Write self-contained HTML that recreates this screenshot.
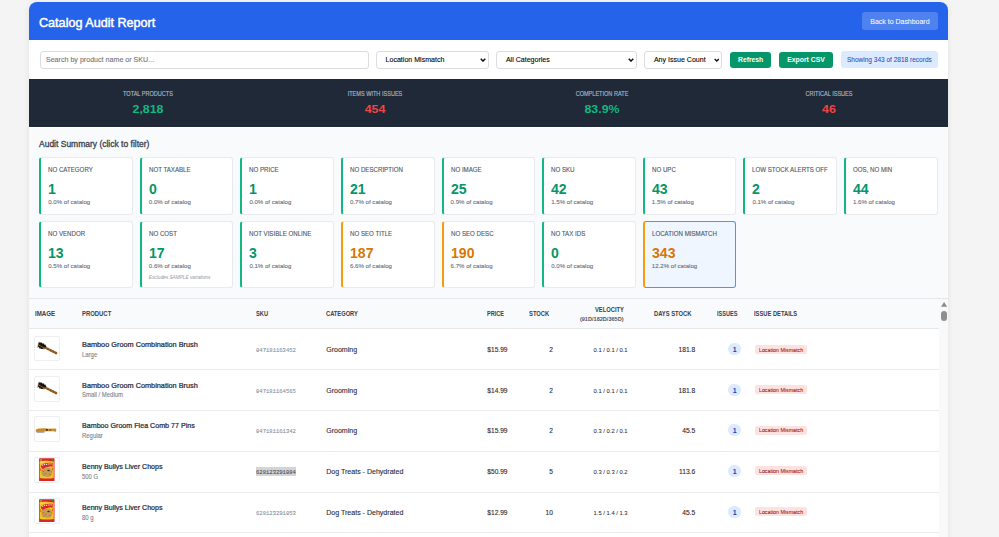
<!DOCTYPE html>
<html><head><meta charset="utf-8"><title>Catalog Audit Report</title>
<style>
html,body{margin:0;padding:0;}
body{width:999px;height:537px;overflow:hidden;background:#f4f4f4;position:relative;font-family:"Liberation Sans",sans-serif;}

</style></head><body>
<div style="position:absolute;left:29.00px;top:2.00px;width:919.00px;height:598.00px;background:#fff;border-radius:8px;box-shadow:0 1px 6px rgba(0,0,0,0.08)"></div>
<div style="position:absolute;left:29.00px;top:2.00px;width:919.00px;height:38.00px;background:#2563eb;border-radius:8px 8px 0 0"></div>
<div style="position:absolute;left:862.40px;top:12.00px;width:75.60px;height:18.00px;background:rgba(255,255,255,0.2);border-radius:3px"></div>
<div style="position:absolute;left:39.50px;top:51.20px;width:329.20px;height:17.40px;background:#fff;border:1px solid #d9dce1;border-radius:3px;box-sizing:border-box"></div>
<div style="position:absolute;left:376.20px;top:51.20px;width:112.40px;height:17.40px;background:#fff;border:1px solid #d9dce1;border-radius:3px;box-sizing:border-box"></div>
<svg style="position:absolute;left:480.00px;top:57.60px" width="6.00" height="4.20" viewBox="0 0 10 7"><path d="M1.2 1.4 L5 5.2 L8.8 1.4" fill="none" stroke="#111" stroke-width="2.4"/></svg>
<div style="position:absolute;left:496.40px;top:51.20px;width:140.20px;height:17.40px;background:#fff;border:1px solid #d9dce1;border-radius:3px;box-sizing:border-box"></div>
<svg style="position:absolute;left:628.00px;top:57.60px" width="6.00" height="4.20" viewBox="0 0 10 7"><path d="M1.2 1.4 L5 5.2 L8.8 1.4" fill="none" stroke="#111" stroke-width="2.4"/></svg>
<div style="position:absolute;left:644.40px;top:51.20px;width:77.60px;height:17.40px;background:#fff;border:1px solid #d9dce1;border-radius:3px;box-sizing:border-box"></div>
<svg style="position:absolute;left:714.00px;top:57.60px" width="5.50" height="4.20" viewBox="0 0 10 7"><path d="M1.2 1.4 L5 5.2 L8.8 1.4" fill="none" stroke="#111" stroke-width="2.4"/></svg>
<div style="position:absolute;left:730.00px;top:52.00px;width:41.40px;height:15.80px;background:#059669;border-radius:3px"></div>
<div style="position:absolute;left:779.20px;top:52.00px;width:53.60px;height:15.80px;background:#059669;border-radius:3px"></div>
<div style="position:absolute;left:840.80px;top:50.80px;width:97.20px;height:17.30px;background:#dbeafe;border-radius:3px"></div>
<div style="position:absolute;left:29.00px;top:79.20px;width:919.00px;height:48.30px;background:#1f2937"></div>
<div style="position:absolute;left:29.00px;top:127.50px;width:919.00px;height:171.00px;background:#f9fafb;border-bottom:1px solid #e5e7eb;box-sizing:border-box"></div>
<div style="position:absolute;left:39.20px;top:157.40px;width:93.50px;height:57.20px;background:#fff;border:1px solid #e8eaed;border-left:2px solid #10b981;border-radius:3px;box-sizing:border-box"></div>
<div style="position:absolute;left:139.80px;top:157.40px;width:93.50px;height:57.20px;background:#fff;border:1px solid #e8eaed;border-left:2px solid #10b981;border-radius:3px;box-sizing:border-box"></div>
<div style="position:absolute;left:240.40px;top:157.40px;width:93.50px;height:57.20px;background:#fff;border:1px solid #e8eaed;border-left:2px solid #10b981;border-radius:3px;box-sizing:border-box"></div>
<div style="position:absolute;left:341.00px;top:157.40px;width:93.50px;height:57.20px;background:#fff;border:1px solid #e8eaed;border-left:2px solid #10b981;border-radius:3px;box-sizing:border-box"></div>
<div style="position:absolute;left:441.60px;top:157.40px;width:93.50px;height:57.20px;background:#fff;border:1px solid #e8eaed;border-left:2px solid #10b981;border-radius:3px;box-sizing:border-box"></div>
<div style="position:absolute;left:542.20px;top:157.40px;width:93.50px;height:57.20px;background:#fff;border:1px solid #e8eaed;border-left:2px solid #10b981;border-radius:3px;box-sizing:border-box"></div>
<div style="position:absolute;left:642.80px;top:157.40px;width:93.50px;height:57.20px;background:#fff;border:1px solid #e8eaed;border-left:2px solid #10b981;border-radius:3px;box-sizing:border-box"></div>
<div style="position:absolute;left:743.40px;top:157.40px;width:93.50px;height:57.20px;background:#fff;border:1px solid #e8eaed;border-left:2px solid #10b981;border-radius:3px;box-sizing:border-box"></div>
<div style="position:absolute;left:844.00px;top:157.40px;width:93.50px;height:57.20px;background:#fff;border:1px solid #e8eaed;border-left:2px solid #10b981;border-radius:3px;box-sizing:border-box"></div>
<div style="position:absolute;left:39.20px;top:221.20px;width:93.50px;height:67.20px;background:#fff;border:1px solid #e8eaed;border-left:2px solid #10b981;border-radius:3px;box-sizing:border-box"></div>
<div style="position:absolute;left:139.80px;top:221.20px;width:93.50px;height:67.20px;background:#fff;border:1px solid #e8eaed;border-left:2px solid #10b981;border-radius:3px;box-sizing:border-box"></div>
<div style="position:absolute;left:240.40px;top:221.20px;width:93.50px;height:67.20px;background:#fff;border:1px solid #e8eaed;border-left:2px solid #10b981;border-radius:3px;box-sizing:border-box"></div>
<div style="position:absolute;left:341.00px;top:221.20px;width:93.50px;height:67.20px;background:#fff;border:1px solid #e8eaed;border-left:2px solid #f59e0b;border-radius:3px;box-sizing:border-box"></div>
<div style="position:absolute;left:441.60px;top:221.20px;width:93.50px;height:67.20px;background:#fff;border:1px solid #e8eaed;border-left:2px solid #f59e0b;border-radius:3px;box-sizing:border-box"></div>
<div style="position:absolute;left:542.20px;top:221.20px;width:93.50px;height:67.20px;background:#fff;border:1px solid #e8eaed;border-left:2px solid #10b981;border-radius:3px;box-sizing:border-box"></div>
<div style="position:absolute;left:642.80px;top:221.20px;width:93.50px;height:67.20px;background:#eff6ff;border:1px solid #5b8ff2;border-left:2px solid #f59e0b;border-radius:3px;box-sizing:border-box"></div>
<div style="position:absolute;left:29.00px;top:299.00px;width:909.70px;height:29.00px;background:#f9fafb"></div>
<div style="position:absolute;left:29.00px;top:328.00px;width:909.70px;height:1.00px;background:#e6e8eb"></div>
<div style="position:absolute;left:29.00px;top:369.00px;width:909.70px;height:1.00px;background:#e9ebee"></div>
<div style="position:absolute;left:34.40px;top:335.60px;width:25.60px;height:25.50px;background:#fff;border:1px solid #eceef1;border-radius:2px;box-sizing:border-box"></div>
<svg style="position:absolute;left:34.40px;top:335.60px" width="25.6" height="25.6" viewBox="0 0 25.6 25.6"><g transform="translate(8.2 10.0) rotate(27)"><rect x="3.2" y="-1.15" width="13.6" height="2.3" rx="1.1" fill="#a0652a"/><path d="M6 -1.1 L7 1.1 M9 -1.1 L10 1.1 M12 -1.1 L13 1.1 M15 -1.1 L16 1.1" stroke="#6b3f16" stroke-width="0.6"/><ellipse cx="0" cy="0.2" rx="4.6" ry="2.4" fill="#9a6530"/><ellipse cx="-0.3" cy="-1.0" rx="4.3" ry="1.4" fill="#111"/><ellipse cx="-1.0" cy="2.0" rx="3.2" ry="0.9" fill="#1a1a1a"/><path d="M-4.2 -1.4 l-0.5 -0.9 M-2.3 -2.1 l-0.3 -1 M0 -2.3 l0 -1 M2.3 -2.1 l0.3 -0.9 M-3.3 2.6 l-0.4 0.8 M-1 3 l-0.2 0.9" stroke="#222" stroke-width="0.55"/></g></svg>
<div style="position:absolute;left:727.60px;top:343.40px;width:13.80px;height:11.90px;background:#dbeafe;border-radius:7px"></div>
<div style="position:absolute;left:755.30px;top:344.70px;width:51.50px;height:9.10px;background:#fee2e2;border-radius:2px"></div>
<div style="position:absolute;left:29.00px;top:410.00px;width:909.70px;height:1.00px;background:#e9ebee"></div>
<div style="position:absolute;left:34.40px;top:376.30px;width:25.60px;height:25.50px;background:#fff;border:1px solid #eceef1;border-radius:2px;box-sizing:border-box"></div>
<svg style="position:absolute;left:34.40px;top:376.30px" width="25.6" height="25.6" viewBox="0 0 25.6 25.6"><g transform="translate(8.2 10.0) rotate(27)"><rect x="3.2" y="-1.15" width="13.6" height="2.3" rx="1.1" fill="#a0652a"/><path d="M6 -1.1 L7 1.1 M9 -1.1 L10 1.1 M12 -1.1 L13 1.1 M15 -1.1 L16 1.1" stroke="#6b3f16" stroke-width="0.6"/><ellipse cx="0" cy="0.2" rx="4.6" ry="2.4" fill="#9a6530"/><ellipse cx="-0.3" cy="-1.0" rx="4.3" ry="1.4" fill="#111"/><ellipse cx="-1.0" cy="2.0" rx="3.2" ry="0.9" fill="#1a1a1a"/><path d="M-4.2 -1.4 l-0.5 -0.9 M-2.3 -2.1 l-0.3 -1 M0 -2.3 l0 -1 M2.3 -2.1 l0.3 -0.9 M-3.3 2.6 l-0.4 0.8 M-1 3 l-0.2 0.9" stroke="#222" stroke-width="0.55"/></g></svg>
<div style="position:absolute;left:727.60px;top:384.10px;width:13.80px;height:11.90px;background:#dbeafe;border-radius:7px"></div>
<div style="position:absolute;left:755.30px;top:385.40px;width:51.50px;height:9.10px;background:#fee2e2;border-radius:2px"></div>
<div style="position:absolute;left:29.00px;top:451.00px;width:909.70px;height:1.00px;background:#e9ebee"></div>
<div style="position:absolute;left:34.40px;top:416.40px;width:25.60px;height:25.50px;background:#fff;border:1px solid #eceef1;border-radius:2px;box-sizing:border-box"></div>
<svg style="position:absolute;left:34.40px;top:416.40px" width="25.6" height="25.6" viewBox="0 0 25.6 25.6"><rect x="2.6" y="15.4" width="7.8" height="1.2" fill="#7d7a6a"/><path d="M1.6 14.6 Q1.8 12.6 4.5 12.4 L11.5 12.3 Q13 12.9 15 12.7 L21.5 12.4 Q22.6 12.6 22.3 14 Q22 15.6 21.3 15.9 Q20.5 14.9 19 15.2 L13.5 15.2 Q12 15 11.3 15.6 L3 16 Q1.5 15.8 1.6 14.6Z" fill="#c98a2b"/><ellipse cx="12.9" cy="13.9" rx="1.1" ry="0.8" fill="#2e2010"/><ellipse cx="16.2" cy="13.8" rx="1.2" ry="0.7" fill="#8a5a1a"/></svg>
<div style="position:absolute;left:727.60px;top:424.20px;width:13.80px;height:11.90px;background:#dbeafe;border-radius:7px"></div>
<div style="position:absolute;left:755.30px;top:425.50px;width:51.50px;height:9.10px;background:#fee2e2;border-radius:2px"></div>
<div style="position:absolute;left:29.00px;top:492.00px;width:909.70px;height:1.00px;background:#e9ebee"></div>
<div style="position:absolute;left:34.40px;top:457.30px;width:25.60px;height:25.50px;background:#fff;border:1px solid #eceef1;border-radius:2px;box-sizing:border-box"></div>
<svg style="position:absolute;left:34.40px;top:457.30px" width="25.6" height="25.6" viewBox="0 0 25.6 25.6"><g transform="translate(5.1 1.3)"><rect x="0" y="0" width="15.4" height="22.6" rx="0.5" fill="#d8262b"/><path d="M0.7 3.2 Q7.7 1.6 14.7 3.2 L14.7 19.8 Q7.7 20.8 0.7 19.8Z" fill="#f2c21e"/><path d="M0.7 3.2 Q4 2.2 7 2.4 L6 4.4 Q3 4.3 0.7 5.2Z" fill="#f6d64a"/><path d="M1.6 7.6 Q3.6 4.6 7.4 5.0 Q10.6 3.8 13.6 4.8 L13.4 8.4 Q11 7.4 9 8.6 Q6 8.6 4 11 Q2.2 10 1.6 7.6Z" fill="#d8262b"/><path d="M2.8 7.4 l1.2 -1.1 M4.6 6.6 l1.3 -0.5 M6.8 6.2 l1.3 -0.1 M9.2 5.8 l1.3 -0.2 M11.3 5.6 l1.3 0" stroke="#fff" stroke-width="0.9"/><path d="M2.4 11.4 Q6 8.6 10.4 9.6 Q13.6 10.6 13.2 14.6 Q12.6 18.4 8.2 18.6 Q3.4 18.6 2.4 15.4Z" fill="#c89a52"/><path d="M3.5 13 l1.5 0.5 M6 15.5 l1.2 -0.6 M10 16 l1.3 0.4 M4.5 17 l1 -0.3 M11.5 12.5 l0.8 0.8" stroke="#9a6a30" stroke-width="0.8"/><ellipse cx="9.4" cy="12.2" rx="1.2" ry="0.8" fill="#3b2814"/><path d="M1 10 q1 1 0.5 2.5 M13.8 9.5 q-0.8 1.2 -0.2 2.4" stroke="#e23a2a" stroke-width="0.8" fill="none"/><circle cx="2.0" cy="1.6" r="0.9" fill="#9ccc3a"/><circle cx="13.4" cy="1.6" r="0.9" fill="#2f8f3a"/><path d="M3 18.8 Q5 18 7 18.9" stroke="#c5e04a" stroke-width="0.9" fill="none"/><circle cx="12.4" cy="18.6" r="0.6" fill="#8fd3f0"/></g></svg>
<div style="position:absolute;left:256.00px;top:466.50px;width:40.30px;height:9.90px;background:#d4d4d4"></div>
<div style="position:absolute;left:727.60px;top:465.10px;width:13.80px;height:11.90px;background:#dbeafe;border-radius:7px"></div>
<div style="position:absolute;left:755.30px;top:466.40px;width:51.50px;height:9.10px;background:#fee2e2;border-radius:2px"></div>
<div style="position:absolute;left:29.00px;top:532.00px;width:909.70px;height:1.00px;background:#e9ebee"></div>
<div style="position:absolute;left:34.40px;top:498.10px;width:25.60px;height:25.50px;background:#fff;border:1px solid #eceef1;border-radius:2px;box-sizing:border-box"></div>
<svg style="position:absolute;left:34.40px;top:498.10px" width="25.6" height="25.6" viewBox="0 0 25.6 25.6"><g transform="translate(5.1 1.3)"><rect x="0" y="0" width="15.4" height="22.6" rx="0.5" fill="#d8262b"/><path d="M0.7 3.2 Q7.7 1.6 14.7 3.2 L14.7 19.8 Q7.7 20.8 0.7 19.8Z" fill="#f2c21e"/><path d="M0.7 3.2 Q4 2.2 7 2.4 L6 4.4 Q3 4.3 0.7 5.2Z" fill="#f6d64a"/><path d="M1.6 7.6 Q3.6 4.6 7.4 5.0 Q10.6 3.8 13.6 4.8 L13.4 8.4 Q11 7.4 9 8.6 Q6 8.6 4 11 Q2.2 10 1.6 7.6Z" fill="#d8262b"/><path d="M2.8 7.4 l1.2 -1.1 M4.6 6.6 l1.3 -0.5 M6.8 6.2 l1.3 -0.1 M9.2 5.8 l1.3 -0.2 M11.3 5.6 l1.3 0" stroke="#fff" stroke-width="0.9"/><path d="M2.4 11.4 Q6 8.6 10.4 9.6 Q13.6 10.6 13.2 14.6 Q12.6 18.4 8.2 18.6 Q3.4 18.6 2.4 15.4Z" fill="#c89a52"/><path d="M3.5 13 l1.5 0.5 M6 15.5 l1.2 -0.6 M10 16 l1.3 0.4 M4.5 17 l1 -0.3 M11.5 12.5 l0.8 0.8" stroke="#9a6a30" stroke-width="0.8"/><ellipse cx="9.4" cy="12.2" rx="1.2" ry="0.8" fill="#3b2814"/><path d="M1 10 q1 1 0.5 2.5 M13.8 9.5 q-0.8 1.2 -0.2 2.4" stroke="#e23a2a" stroke-width="0.8" fill="none"/><circle cx="2.0" cy="1.6" r="0.9" fill="#9ccc3a"/><circle cx="13.4" cy="1.6" r="0.9" fill="#2f8f3a"/><path d="M3 18.8 Q5 18 7 18.9" stroke="#c5e04a" stroke-width="0.9" fill="none"/><circle cx="12.4" cy="18.6" r="0.6" fill="#8fd3f0"/></g></svg>
<div style="position:absolute;left:727.60px;top:505.90px;width:13.80px;height:11.90px;background:#dbeafe;border-radius:7px"></div>
<div style="position:absolute;left:755.30px;top:507.20px;width:51.50px;height:9.10px;background:#fee2e2;border-radius:2px"></div>
<div style="position:absolute;left:29.00px;top:573.00px;width:909.70px;height:1.00px;background:#e9ebee"></div>
<div style="position:absolute;left:34.40px;top:539.00px;width:25.60px;height:25.50px;background:#fff;border:1px solid #eceef1;border-radius:2px;box-sizing:border-box"></div>
<svg style="position:absolute;left:34.40px;top:539.00px" width="25.6" height="25.6" viewBox="0 0 25.6 25.6"><g transform="translate(5.1 1.3)"><rect x="0" y="0" width="15.4" height="22.6" rx="0.5" fill="#d8262b"/><path d="M0.7 3.2 Q7.7 1.6 14.7 3.2 L14.7 19.8 Q7.7 20.8 0.7 19.8Z" fill="#f2c21e"/><path d="M0.7 3.2 Q4 2.2 7 2.4 L6 4.4 Q3 4.3 0.7 5.2Z" fill="#f6d64a"/><path d="M1.6 7.6 Q3.6 4.6 7.4 5.0 Q10.6 3.8 13.6 4.8 L13.4 8.4 Q11 7.4 9 8.6 Q6 8.6 4 11 Q2.2 10 1.6 7.6Z" fill="#d8262b"/><path d="M2.8 7.4 l1.2 -1.1 M4.6 6.6 l1.3 -0.5 M6.8 6.2 l1.3 -0.1 M9.2 5.8 l1.3 -0.2 M11.3 5.6 l1.3 0" stroke="#fff" stroke-width="0.9"/><path d="M2.4 11.4 Q6 8.6 10.4 9.6 Q13.6 10.6 13.2 14.6 Q12.6 18.4 8.2 18.6 Q3.4 18.6 2.4 15.4Z" fill="#c89a52"/><path d="M3.5 13 l1.5 0.5 M6 15.5 l1.2 -0.6 M10 16 l1.3 0.4 M4.5 17 l1 -0.3 M11.5 12.5 l0.8 0.8" stroke="#9a6a30" stroke-width="0.8"/><ellipse cx="9.4" cy="12.2" rx="1.2" ry="0.8" fill="#3b2814"/><path d="M1 10 q1 1 0.5 2.5 M13.8 9.5 q-0.8 1.2 -0.2 2.4" stroke="#e23a2a" stroke-width="0.8" fill="none"/><circle cx="2.0" cy="1.6" r="0.9" fill="#9ccc3a"/><circle cx="13.4" cy="1.6" r="0.9" fill="#2f8f3a"/><path d="M3 18.8 Q5 18 7 18.9" stroke="#c5e04a" stroke-width="0.9" fill="none"/><circle cx="12.4" cy="18.6" r="0.6" fill="#8fd3f0"/></g></svg>
<div style="position:absolute;left:727.60px;top:546.80px;width:13.80px;height:11.90px;background:#dbeafe;border-radius:7px"></div>
<div style="position:absolute;left:755.30px;top:548.10px;width:51.50px;height:9.10px;background:#fee2e2;border-radius:2px"></div>
<div style="position:absolute;left:938.70px;top:298.50px;width:9.30px;height:238.50px;background:#f9f9f9"></div>
<svg style="position:absolute;left:940.7px;top:302.2px" width="6.2" height="4.7" viewBox="0 0 6.2 4.7"><path d="M3.1 0 L6.2 4.7 L0 4.7Z" fill="#8a8a8a"/></svg>
<div style="position:absolute;left:941.00px;top:310.70px;width:5.60px;height:10.70px;background:#8f8f8f;border-radius:3px"></div>
<div style="position:absolute;top:14px;font-family:'Liberation Sans',sans-serif;font-size:12.4px;font-weight:normal;font-style:normal;line-height:18px;color:#fff;white-space:nowrap;transform:scaleX(1.0173);transform-origin:left center;left:38.90px;-webkit-text-stroke:0.45px #fff;">Catalog Audit Report</div>
<div style="position:absolute;top:17px;font-family:'Liberation Sans',sans-serif;font-size:6.97px;font-weight:normal;font-style:normal;line-height:10px;color:#fff;white-space:nowrap;left:870.30px;-webkit-text-stroke:0.05px #fff;">Back to Dashboard</div>
<div style="position:absolute;top:55px;font-family:'Liberation Sans',sans-serif;font-size:7.12px;font-weight:normal;font-style:normal;line-height:10px;color:#757575;white-space:nowrap;left:45.90px;-webkit-text-stroke:0.1px #757575;">Search by product name or SKU...</div>
<div style="position:absolute;top:55px;font-family:'Liberation Sans',sans-serif;font-size:7.06px;font-weight:normal;font-style:normal;line-height:10px;color:#000;white-space:nowrap;left:385.60px;-webkit-text-stroke:0.1px #000;">Location Mismatch</div>
<div style="position:absolute;top:55px;font-family:'Liberation Sans',sans-serif;font-size:7.06px;font-weight:normal;font-style:normal;line-height:10px;color:#000;white-space:nowrap;left:505.90px;-webkit-text-stroke:0.1px #000;">All Categories</div>
<div style="position:absolute;top:55px;font-family:'Liberation Sans',sans-serif;font-size:7.06px;font-weight:normal;font-style:normal;line-height:10px;color:#000;white-space:nowrap;left:653.90px;-webkit-text-stroke:0.1px #000;">Any Issue Count</div>
<div style="position:absolute;top:55px;font-family:'Liberation Sans',sans-serif;font-size:6.75px;font-weight:bold;font-style:normal;line-height:10px;color:#fff;white-space:nowrap;left:450.70px;width:600px;text-align:center;">Refresh</div>
<div style="position:absolute;top:55px;font-family:'Liberation Sans',sans-serif;font-size:6.82px;font-weight:bold;font-style:normal;line-height:10px;color:#fff;white-space:nowrap;left:506.00px;width:600px;text-align:center;">Export CSV</div>
<div style="position:absolute;top:55px;font-family:'Liberation Sans',sans-serif;font-size:6.53px;font-weight:normal;font-style:normal;line-height:10px;color:#2a4bb8;white-space:nowrap;left:589.40px;width:600px;text-align:center;-webkit-text-stroke:0.05px #2a4bb8;">Showing 343 of 2818 records</div>
<div style="position:absolute;top:89px;font-family:'Liberation Sans',sans-serif;font-size:6.4px;font-weight:normal;font-style:normal;line-height:9px;color:#adb5c1;white-space:nowrap;transform:scaleX(0.8700);transform-origin:center center;left:-151.80px;width:600px;text-align:center;-webkit-text-stroke:0.15px #adb5c1;">TOTAL PRODUCTS</div>
<div style="position:absolute;top:101px;font-family:'Liberation Sans',sans-serif;font-size:11.8px;font-weight:bold;font-style:normal;line-height:17px;color:#10b981;white-space:nowrap;transform:scaleX(1.0500);transform-origin:center center;left:-151.80px;width:600px;text-align:center;">2,818</div>
<div style="position:absolute;top:89px;font-family:'Liberation Sans',sans-serif;font-size:6.4px;font-weight:normal;font-style:normal;line-height:9px;color:#adb5c1;white-space:nowrap;transform:scaleX(0.8700);transform-origin:center center;left:74.90px;width:600px;text-align:center;-webkit-text-stroke:0.15px #adb5c1;">ITEMS WITH ISSUES</div>
<div style="position:absolute;top:101px;font-family:'Liberation Sans',sans-serif;font-size:11.8px;font-weight:bold;font-style:normal;line-height:17px;color:#ef4444;white-space:nowrap;transform:scaleX(1.0500);transform-origin:center center;left:74.90px;width:600px;text-align:center;">454</div>
<div style="position:absolute;top:89px;font-family:'Liberation Sans',sans-serif;font-size:6.4px;font-weight:normal;font-style:normal;line-height:9px;color:#adb5c1;white-space:nowrap;transform:scaleX(0.8700);transform-origin:center center;left:301.70px;width:600px;text-align:center;-webkit-text-stroke:0.15px #adb5c1;">COMPLETION RATE</div>
<div style="position:absolute;top:101px;font-family:'Liberation Sans',sans-serif;font-size:11.8px;font-weight:bold;font-style:normal;line-height:17px;color:#10b981;white-space:nowrap;transform:scaleX(1.0500);transform-origin:center center;left:301.70px;width:600px;text-align:center;">83.9%</div>
<div style="position:absolute;top:89px;font-family:'Liberation Sans',sans-serif;font-size:6.4px;font-weight:normal;font-style:normal;line-height:9px;color:#adb5c1;white-space:nowrap;transform:scaleX(0.8700);transform-origin:center center;left:528.50px;width:600px;text-align:center;-webkit-text-stroke:0.15px #adb5c1;">CRITICAL ISSUES</div>
<div style="position:absolute;top:101px;font-family:'Liberation Sans',sans-serif;font-size:11.8px;font-weight:bold;font-style:normal;line-height:17px;color:#ef4444;white-space:nowrap;transform:scaleX(1.0500);transform-origin:center center;left:528.50px;width:600px;text-align:center;">46</div>
<div style="position:absolute;top:138px;font-family:'Liberation Sans',sans-serif;font-size:8.6px;font-weight:normal;font-style:normal;line-height:13px;color:#374151;white-space:nowrap;transform:scaleX(0.9882);transform-origin:left center;left:39.00px;-webkit-text-stroke:0.3px #374151;">Audit Summary (click to filter)</div>
<div style="position:absolute;top:165px;font-family:'Liberation Sans',sans-serif;font-size:6.3px;font-weight:normal;font-style:normal;line-height:9px;color:#4b5563;white-space:nowrap;transform:scaleX(0.9750);transform-origin:left center;left:48.20px;-webkit-text-stroke:0.1px #4b5563;">NO CATEGORY</div>
<div style="position:absolute;top:180px;font-family:'Liberation Sans',sans-serif;font-size:13.8px;font-weight:bold;font-style:normal;line-height:20px;color:#059669;white-space:nowrap;transform:scaleX(1.0200);transform-origin:left center;left:48.20px;">1</div>
<div style="position:absolute;top:197px;font-family:'Liberation Sans',sans-serif;font-size:6.1px;font-weight:normal;font-style:normal;line-height:9px;color:#6b7280;white-space:nowrap;left:48.20px;-webkit-text-stroke:0.1px #6b7280;">0.0% of catalog</div>
<div style="position:absolute;top:165px;font-family:'Liberation Sans',sans-serif;font-size:6.3px;font-weight:normal;font-style:normal;line-height:9px;color:#4b5563;white-space:nowrap;transform:scaleX(0.9750);transform-origin:left center;left:148.80px;-webkit-text-stroke:0.1px #4b5563;">NOT TAXABLE</div>
<div style="position:absolute;top:180px;font-family:'Liberation Sans',sans-serif;font-size:13.8px;font-weight:bold;font-style:normal;line-height:20px;color:#059669;white-space:nowrap;transform:scaleX(1.0200);transform-origin:left center;left:148.80px;">0</div>
<div style="position:absolute;top:197px;font-family:'Liberation Sans',sans-serif;font-size:6.1px;font-weight:normal;font-style:normal;line-height:9px;color:#6b7280;white-space:nowrap;left:148.80px;-webkit-text-stroke:0.1px #6b7280;">0.0% of catalog</div>
<div style="position:absolute;top:165px;font-family:'Liberation Sans',sans-serif;font-size:6.3px;font-weight:normal;font-style:normal;line-height:9px;color:#4b5563;white-space:nowrap;transform:scaleX(0.9750);transform-origin:left center;left:249.40px;-webkit-text-stroke:0.1px #4b5563;">NO PRICE</div>
<div style="position:absolute;top:180px;font-family:'Liberation Sans',sans-serif;font-size:13.8px;font-weight:bold;font-style:normal;line-height:20px;color:#059669;white-space:nowrap;transform:scaleX(1.0200);transform-origin:left center;left:249.40px;">1</div>
<div style="position:absolute;top:197px;font-family:'Liberation Sans',sans-serif;font-size:6.1px;font-weight:normal;font-style:normal;line-height:9px;color:#6b7280;white-space:nowrap;left:249.40px;-webkit-text-stroke:0.1px #6b7280;">0.0% of catalog</div>
<div style="position:absolute;top:165px;font-family:'Liberation Sans',sans-serif;font-size:6.3px;font-weight:normal;font-style:normal;line-height:9px;color:#4b5563;white-space:nowrap;transform:scaleX(0.9750);transform-origin:left center;left:350.00px;-webkit-text-stroke:0.1px #4b5563;">NO DESCRIPTION</div>
<div style="position:absolute;top:180px;font-family:'Liberation Sans',sans-serif;font-size:13.8px;font-weight:bold;font-style:normal;line-height:20px;color:#059669;white-space:nowrap;transform:scaleX(1.0200);transform-origin:left center;left:350.00px;">21</div>
<div style="position:absolute;top:197px;font-family:'Liberation Sans',sans-serif;font-size:6.1px;font-weight:normal;font-style:normal;line-height:9px;color:#6b7280;white-space:nowrap;left:350.00px;-webkit-text-stroke:0.1px #6b7280;">0.7% of catalog</div>
<div style="position:absolute;top:165px;font-family:'Liberation Sans',sans-serif;font-size:6.3px;font-weight:normal;font-style:normal;line-height:9px;color:#4b5563;white-space:nowrap;transform:scaleX(0.9750);transform-origin:left center;left:450.60px;-webkit-text-stroke:0.1px #4b5563;">NO IMAGE</div>
<div style="position:absolute;top:180px;font-family:'Liberation Sans',sans-serif;font-size:13.8px;font-weight:bold;font-style:normal;line-height:20px;color:#059669;white-space:nowrap;transform:scaleX(1.0200);transform-origin:left center;left:450.60px;">25</div>
<div style="position:absolute;top:197px;font-family:'Liberation Sans',sans-serif;font-size:6.1px;font-weight:normal;font-style:normal;line-height:9px;color:#6b7280;white-space:nowrap;left:450.60px;-webkit-text-stroke:0.1px #6b7280;">0.9% of catalog</div>
<div style="position:absolute;top:165px;font-family:'Liberation Sans',sans-serif;font-size:6.3px;font-weight:normal;font-style:normal;line-height:9px;color:#4b5563;white-space:nowrap;transform:scaleX(0.9750);transform-origin:left center;left:551.20px;-webkit-text-stroke:0.1px #4b5563;">NO SKU</div>
<div style="position:absolute;top:180px;font-family:'Liberation Sans',sans-serif;font-size:13.8px;font-weight:bold;font-style:normal;line-height:20px;color:#059669;white-space:nowrap;transform:scaleX(1.0200);transform-origin:left center;left:551.20px;">42</div>
<div style="position:absolute;top:197px;font-family:'Liberation Sans',sans-serif;font-size:6.1px;font-weight:normal;font-style:normal;line-height:9px;color:#6b7280;white-space:nowrap;left:551.20px;-webkit-text-stroke:0.1px #6b7280;">1.5% of catalog</div>
<div style="position:absolute;top:165px;font-family:'Liberation Sans',sans-serif;font-size:6.3px;font-weight:normal;font-style:normal;line-height:9px;color:#4b5563;white-space:nowrap;transform:scaleX(0.9750);transform-origin:left center;left:651.80px;-webkit-text-stroke:0.1px #4b5563;">NO UPC</div>
<div style="position:absolute;top:180px;font-family:'Liberation Sans',sans-serif;font-size:13.8px;font-weight:bold;font-style:normal;line-height:20px;color:#059669;white-space:nowrap;transform:scaleX(1.0200);transform-origin:left center;left:651.80px;">43</div>
<div style="position:absolute;top:197px;font-family:'Liberation Sans',sans-serif;font-size:6.1px;font-weight:normal;font-style:normal;line-height:9px;color:#6b7280;white-space:nowrap;left:651.80px;-webkit-text-stroke:0.1px #6b7280;">1.5% of catalog</div>
<div style="position:absolute;top:165px;font-family:'Liberation Sans',sans-serif;font-size:6.3px;font-weight:normal;font-style:normal;line-height:9px;color:#4b5563;white-space:nowrap;transform:scaleX(0.9750);transform-origin:left center;left:752.40px;-webkit-text-stroke:0.1px #4b5563;">LOW STOCK ALERTS OFF</div>
<div style="position:absolute;top:180px;font-family:'Liberation Sans',sans-serif;font-size:13.8px;font-weight:bold;font-style:normal;line-height:20px;color:#059669;white-space:nowrap;transform:scaleX(1.0200);transform-origin:left center;left:752.40px;">2</div>
<div style="position:absolute;top:197px;font-family:'Liberation Sans',sans-serif;font-size:6.1px;font-weight:normal;font-style:normal;line-height:9px;color:#6b7280;white-space:nowrap;left:752.40px;-webkit-text-stroke:0.1px #6b7280;">0.1% of catalog</div>
<div style="position:absolute;top:165px;font-family:'Liberation Sans',sans-serif;font-size:6.3px;font-weight:normal;font-style:normal;line-height:9px;color:#4b5563;white-space:nowrap;transform:scaleX(0.9750);transform-origin:left center;left:853.00px;-webkit-text-stroke:0.1px #4b5563;">OOS, NO MIN</div>
<div style="position:absolute;top:180px;font-family:'Liberation Sans',sans-serif;font-size:13.8px;font-weight:bold;font-style:normal;line-height:20px;color:#059669;white-space:nowrap;transform:scaleX(1.0200);transform-origin:left center;left:853.00px;">44</div>
<div style="position:absolute;top:197px;font-family:'Liberation Sans',sans-serif;font-size:6.1px;font-weight:normal;font-style:normal;line-height:9px;color:#6b7280;white-space:nowrap;left:853.00px;-webkit-text-stroke:0.1px #6b7280;">1.6% of catalog</div>
<div style="position:absolute;top:229px;font-family:'Liberation Sans',sans-serif;font-size:6.3px;font-weight:normal;font-style:normal;line-height:9px;color:#4b5563;white-space:nowrap;transform:scaleX(0.9750);transform-origin:left center;left:48.20px;-webkit-text-stroke:0.1px #4b5563;">NO VENDOR</div>
<div style="position:absolute;top:244px;font-family:'Liberation Sans',sans-serif;font-size:13.8px;font-weight:bold;font-style:normal;line-height:20px;color:#059669;white-space:nowrap;transform:scaleX(1.0200);transform-origin:left center;left:48.20px;">13</div>
<div style="position:absolute;top:261px;font-family:'Liberation Sans',sans-serif;font-size:6.1px;font-weight:normal;font-style:normal;line-height:9px;color:#6b7280;white-space:nowrap;left:48.20px;-webkit-text-stroke:0.1px #6b7280;">0.5% of catalog</div>
<div style="position:absolute;top:229px;font-family:'Liberation Sans',sans-serif;font-size:6.3px;font-weight:normal;font-style:normal;line-height:9px;color:#4b5563;white-space:nowrap;transform:scaleX(0.9750);transform-origin:left center;left:148.80px;-webkit-text-stroke:0.1px #4b5563;">NO COST</div>
<div style="position:absolute;top:244px;font-family:'Liberation Sans',sans-serif;font-size:13.8px;font-weight:bold;font-style:normal;line-height:20px;color:#059669;white-space:nowrap;transform:scaleX(1.0200);transform-origin:left center;left:148.80px;">17</div>
<div style="position:absolute;top:261px;font-family:'Liberation Sans',sans-serif;font-size:6.1px;font-weight:normal;font-style:normal;line-height:9px;color:#6b7280;white-space:nowrap;left:148.80px;-webkit-text-stroke:0.1px #6b7280;">0.6% of catalog</div>
<div style="position:absolute;top:229px;font-family:'Liberation Sans',sans-serif;font-size:6.3px;font-weight:normal;font-style:normal;line-height:9px;color:#4b5563;white-space:nowrap;transform:scaleX(0.9750);transform-origin:left center;left:249.40px;-webkit-text-stroke:0.1px #4b5563;">NOT VISIBLE ONLINE</div>
<div style="position:absolute;top:244px;font-family:'Liberation Sans',sans-serif;font-size:13.8px;font-weight:bold;font-style:normal;line-height:20px;color:#059669;white-space:nowrap;transform:scaleX(1.0200);transform-origin:left center;left:249.40px;">3</div>
<div style="position:absolute;top:261px;font-family:'Liberation Sans',sans-serif;font-size:6.1px;font-weight:normal;font-style:normal;line-height:9px;color:#6b7280;white-space:nowrap;left:249.40px;-webkit-text-stroke:0.1px #6b7280;">0.1% of catalog</div>
<div style="position:absolute;top:229px;font-family:'Liberation Sans',sans-serif;font-size:6.3px;font-weight:normal;font-style:normal;line-height:9px;color:#4b5563;white-space:nowrap;transform:scaleX(0.9750);transform-origin:left center;left:350.00px;-webkit-text-stroke:0.1px #4b5563;">NO SEO TITLE</div>
<div style="position:absolute;top:244px;font-family:'Liberation Sans',sans-serif;font-size:13.8px;font-weight:bold;font-style:normal;line-height:20px;color:#d97706;white-space:nowrap;transform:scaleX(1.0200);transform-origin:left center;left:350.00px;">187</div>
<div style="position:absolute;top:261px;font-family:'Liberation Sans',sans-serif;font-size:6.1px;font-weight:normal;font-style:normal;line-height:9px;color:#6b7280;white-space:nowrap;left:350.00px;-webkit-text-stroke:0.1px #6b7280;">6.6% of catalog</div>
<div style="position:absolute;top:229px;font-family:'Liberation Sans',sans-serif;font-size:6.3px;font-weight:normal;font-style:normal;line-height:9px;color:#4b5563;white-space:nowrap;transform:scaleX(0.9750);transform-origin:left center;left:450.60px;-webkit-text-stroke:0.1px #4b5563;">NO SEO DESC</div>
<div style="position:absolute;top:244px;font-family:'Liberation Sans',sans-serif;font-size:13.8px;font-weight:bold;font-style:normal;line-height:20px;color:#d97706;white-space:nowrap;transform:scaleX(1.0200);transform-origin:left center;left:450.60px;">190</div>
<div style="position:absolute;top:261px;font-family:'Liberation Sans',sans-serif;font-size:6.1px;font-weight:normal;font-style:normal;line-height:9px;color:#6b7280;white-space:nowrap;left:450.60px;-webkit-text-stroke:0.1px #6b7280;">6.7% of catalog</div>
<div style="position:absolute;top:229px;font-family:'Liberation Sans',sans-serif;font-size:6.3px;font-weight:normal;font-style:normal;line-height:9px;color:#4b5563;white-space:nowrap;transform:scaleX(0.9750);transform-origin:left center;left:551.20px;-webkit-text-stroke:0.1px #4b5563;">NO TAX IDS</div>
<div style="position:absolute;top:244px;font-family:'Liberation Sans',sans-serif;font-size:13.8px;font-weight:bold;font-style:normal;line-height:20px;color:#059669;white-space:nowrap;transform:scaleX(1.0200);transform-origin:left center;left:551.20px;">0</div>
<div style="position:absolute;top:261px;font-family:'Liberation Sans',sans-serif;font-size:6.1px;font-weight:normal;font-style:normal;line-height:9px;color:#6b7280;white-space:nowrap;left:551.20px;-webkit-text-stroke:0.1px #6b7280;">0.0% of catalog</div>
<div style="position:absolute;top:229px;font-family:'Liberation Sans',sans-serif;font-size:6.3px;font-weight:normal;font-style:normal;line-height:9px;color:#4b5563;white-space:nowrap;transform:scaleX(0.9750);transform-origin:left center;left:651.80px;-webkit-text-stroke:0.1px #4b5563;">LOCATION MISMATCH</div>
<div style="position:absolute;top:244px;font-family:'Liberation Sans',sans-serif;font-size:13.8px;font-weight:bold;font-style:normal;line-height:20px;color:#d97706;white-space:nowrap;transform:scaleX(1.0200);transform-origin:left center;left:651.80px;">343</div>
<div style="position:absolute;top:261px;font-family:'Liberation Sans',sans-serif;font-size:6.1px;font-weight:normal;font-style:normal;line-height:9px;color:#6b7280;white-space:nowrap;left:651.80px;-webkit-text-stroke:0.1px #6b7280;">12.2% of catalog</div>
<div style="position:absolute;top:274px;font-family:'Liberation Sans',sans-serif;font-size:4.75px;font-weight:normal;font-style:italic;line-height:7px;color:#9ca3af;white-space:nowrap;left:148.80px;-webkit-text-stroke:0.05px #9ca3af;">Excludes SAMPLE variations</div>
<div style="position:absolute;top:309px;font-family:'Liberation Sans',sans-serif;font-size:6.4px;font-weight:bold;font-style:normal;line-height:9px;color:#374151;white-space:nowrap;transform:scaleX(0.9629);transform-origin:left center;left:34.50px;">IMAGE</div>
<div style="position:absolute;top:309px;font-family:'Liberation Sans',sans-serif;font-size:6.4px;font-weight:bold;font-style:normal;line-height:9px;color:#374151;white-space:nowrap;transform:scaleX(0.9260);transform-origin:left center;left:81.70px;">PRODUCT</div>
<div style="position:absolute;top:309px;font-family:'Liberation Sans',sans-serif;font-size:6.4px;font-weight:bold;font-style:normal;line-height:9px;color:#374151;white-space:nowrap;transform:scaleX(0.8956);transform-origin:left center;left:255.90px;">SKU</div>
<div style="position:absolute;top:309px;font-family:'Liberation Sans',sans-serif;font-size:6.4px;font-weight:bold;font-style:normal;line-height:9px;color:#374151;white-space:nowrap;transform:scaleX(0.8971);transform-origin:left center;left:325.90px;">CATEGORY</div>
<div style="position:absolute;top:309px;font-family:'Liberation Sans',sans-serif;font-size:6.4px;font-weight:bold;font-style:normal;line-height:9px;color:#374151;white-space:nowrap;transform:scaleX(0.8692);transform-origin:left center;left:486.60px;">PRICE</div>
<div style="position:absolute;top:309px;font-family:'Liberation Sans',sans-serif;font-size:6.4px;font-weight:bold;font-style:normal;line-height:9px;color:#374151;white-space:nowrap;transform:scaleX(0.9109);transform-origin:left center;left:528.70px;">STOCK</div>
<div style="position:absolute;top:309px;font-family:'Liberation Sans',sans-serif;font-size:6.4px;font-weight:bold;font-style:normal;line-height:9px;color:#374151;white-space:nowrap;transform:scaleX(0.9090);transform-origin:left center;left:653.50px;">DAYS STOCK</div>
<div style="position:absolute;top:309px;font-family:'Liberation Sans',sans-serif;font-size:6.4px;font-weight:bold;font-style:normal;line-height:9px;color:#374151;white-space:nowrap;transform:scaleX(0.8690);transform-origin:left center;left:716.70px;">ISSUES</div>
<div style="position:absolute;top:309px;font-family:'Liberation Sans',sans-serif;font-size:6.4px;font-weight:bold;font-style:normal;line-height:9px;color:#374151;white-space:nowrap;transform:scaleX(0.9022);transform-origin:left center;left:753.80px;">ISSUE DETAILS</div>
<div style="position:absolute;top:305px;font-family:'Liberation Sans',sans-serif;font-size:6.4px;font-weight:bold;font-style:normal;line-height:9px;color:#374151;white-space:nowrap;transform:scaleX(0.9062);transform-origin:right center;right:375.30px;text-align:right;">VELOCITY</div>
<div style="position:absolute;top:316px;font-family:'Liberation Sans',sans-serif;font-size:4.8px;font-weight:bold;font-style:normal;line-height:7px;color:#4b5563;white-space:nowrap;transform:scaleX(1.1617);transform-origin:right center;right:375.20px;text-align:right;">(91D/182D/365D)</div>
<div style="position:absolute;top:340px;font-family:'Liberation Sans',sans-serif;font-size:7.0px;font-weight:normal;font-style:normal;line-height:10px;color:#1f2937;white-space:nowrap;transform:scaleX(1.0443);transform-origin:left center;left:81.80px;-webkit-text-stroke:0.22px #1f2937;">Bamboo Groom Combination Brush</div>
<div style="position:absolute;top:350px;font-family:'Liberation Sans',sans-serif;font-size:6.4px;font-weight:normal;font-style:normal;line-height:9px;color:#7b828c;white-space:nowrap;transform:scaleX(0.9300);transform-origin:left center;left:81.80px;-webkit-text-stroke:0.1px #7b828c;">Large</div>
<div style="position:absolute;top:346px;font-family:'Liberation Mono',monospace;font-size:6.2px;font-weight:normal;font-style:normal;line-height:9px;color:#8a9099;white-space:nowrap;transform:scaleX(0.8961);transform-origin:left center;left:256.20px;-webkit-text-stroke:0.1px #8a9099;">047181163452</div>
<div style="position:absolute;top:345px;font-family:'Liberation Sans',sans-serif;font-size:7.05px;font-weight:normal;font-style:normal;line-height:10px;color:#1f2937;white-space:nowrap;left:326.20px;-webkit-text-stroke:0.1px #1f2937;">Grooming</div>
<div style="position:absolute;top:345px;font-family:'Liberation Sans',sans-serif;font-size:6.6px;font-weight:normal;font-style:normal;line-height:10px;color:#1f2937;white-space:nowrap;left:487.30px;-webkit-text-stroke:0.1px #1f2937;">$15.99</div>
<div style="position:absolute;top:345px;font-family:'Liberation Sans',sans-serif;font-size:6.6px;font-weight:normal;font-style:normal;line-height:10px;color:#1f2937;white-space:nowrap;right:446.10px;text-align:right;-webkit-text-stroke:0.1px #1f2937;">2</div>
<div style="position:absolute;top:346px;font-family:'Liberation Sans',sans-serif;font-size:5.84px;font-weight:normal;font-style:normal;line-height:9px;color:#1f2937;white-space:nowrap;left:310.60px;width:600px;text-align:center;-webkit-text-stroke:0.05px #1f2937;">0.1 / 0.1 / 0.1</div>
<div style="position:absolute;top:345px;font-family:'Liberation Sans',sans-serif;font-size:6.71px;font-weight:normal;font-style:normal;line-height:10px;color:#1f2937;white-space:nowrap;right:303.80px;text-align:right;-webkit-text-stroke:0.1px #1f2937;">181.8</div>
<div style="position:absolute;top:345px;font-family:'Liberation Sans',sans-serif;font-size:7.0px;font-weight:bold;font-style:normal;line-height:10px;color:#1e40af;white-space:nowrap;left:434.60px;width:600px;text-align:center;">1</div>
<div style="position:absolute;top:346px;font-family:'Liberation Sans',sans-serif;font-size:5.3px;font-weight:normal;font-style:normal;line-height:8px;color:#991b1b;white-space:nowrap;left:481.05px;width:600px;text-align:center;-webkit-text-stroke:0.08px #991b1b;">Location Mismatch</div>
<div style="position:absolute;top:381px;font-family:'Liberation Sans',sans-serif;font-size:7.0px;font-weight:normal;font-style:normal;line-height:10px;color:#1f2937;white-space:nowrap;transform:scaleX(1.0443);transform-origin:left center;left:81.80px;-webkit-text-stroke:0.22px #1f2937;">Bamboo Groom Combination Brush</div>
<div style="position:absolute;top:390px;font-family:'Liberation Sans',sans-serif;font-size:6.4px;font-weight:normal;font-style:normal;line-height:9px;color:#7b828c;white-space:nowrap;transform:scaleX(0.9300);transform-origin:left center;left:81.80px;-webkit-text-stroke:0.1px #7b828c;">Small / Medium</div>
<div style="position:absolute;top:387px;font-family:'Liberation Mono',monospace;font-size:6.2px;font-weight:normal;font-style:normal;line-height:9px;color:#8a9099;white-space:nowrap;transform:scaleX(0.8961);transform-origin:left center;left:256.20px;-webkit-text-stroke:0.1px #8a9099;">047181164565</div>
<div style="position:absolute;top:386px;font-family:'Liberation Sans',sans-serif;font-size:7.05px;font-weight:normal;font-style:normal;line-height:10px;color:#1f2937;white-space:nowrap;left:326.20px;-webkit-text-stroke:0.1px #1f2937;">Grooming</div>
<div style="position:absolute;top:386px;font-family:'Liberation Sans',sans-serif;font-size:6.6px;font-weight:normal;font-style:normal;line-height:10px;color:#1f2937;white-space:nowrap;left:487.30px;-webkit-text-stroke:0.1px #1f2937;">$14.99</div>
<div style="position:absolute;top:386px;font-family:'Liberation Sans',sans-serif;font-size:6.6px;font-weight:normal;font-style:normal;line-height:10px;color:#1f2937;white-space:nowrap;right:446.10px;text-align:right;-webkit-text-stroke:0.1px #1f2937;">2</div>
<div style="position:absolute;top:387px;font-family:'Liberation Sans',sans-serif;font-size:5.84px;font-weight:normal;font-style:normal;line-height:9px;color:#1f2937;white-space:nowrap;left:310.60px;width:600px;text-align:center;-webkit-text-stroke:0.05px #1f2937;">0.1 / 0.1 / 0.1</div>
<div style="position:absolute;top:386px;font-family:'Liberation Sans',sans-serif;font-size:6.71px;font-weight:normal;font-style:normal;line-height:10px;color:#1f2937;white-space:nowrap;right:303.80px;text-align:right;-webkit-text-stroke:0.1px #1f2937;">181.8</div>
<div style="position:absolute;top:386px;font-family:'Liberation Sans',sans-serif;font-size:7.0px;font-weight:bold;font-style:normal;line-height:10px;color:#1e40af;white-space:nowrap;left:434.60px;width:600px;text-align:center;">1</div>
<div style="position:absolute;top:386px;font-family:'Liberation Sans',sans-serif;font-size:5.3px;font-weight:normal;font-style:normal;line-height:8px;color:#991b1b;white-space:nowrap;left:481.05px;width:600px;text-align:center;-webkit-text-stroke:0.08px #991b1b;">Location Mismatch</div>
<div style="position:absolute;top:421px;font-family:'Liberation Sans',sans-serif;font-size:7.0px;font-weight:normal;font-style:normal;line-height:10px;color:#1f2937;white-space:nowrap;transform:scaleX(1.0173);transform-origin:left center;left:81.80px;-webkit-text-stroke:0.22px #1f2937;">Bamboo Groom Flea Comb 77 Pins</div>
<div style="position:absolute;top:431px;font-family:'Liberation Sans',sans-serif;font-size:6.4px;font-weight:normal;font-style:normal;line-height:9px;color:#7b828c;white-space:nowrap;transform:scaleX(0.9300);transform-origin:left center;left:81.80px;-webkit-text-stroke:0.1px #7b828c;">Regular</div>
<div style="position:absolute;top:427px;font-family:'Liberation Mono',monospace;font-size:6.2px;font-weight:normal;font-style:normal;line-height:9px;color:#8a9099;white-space:nowrap;transform:scaleX(0.8961);transform-origin:left center;left:256.20px;-webkit-text-stroke:0.1px #8a9099;">047181161342</div>
<div style="position:absolute;top:426px;font-family:'Liberation Sans',sans-serif;font-size:7.05px;font-weight:normal;font-style:normal;line-height:10px;color:#1f2937;white-space:nowrap;left:326.20px;-webkit-text-stroke:0.1px #1f2937;">Grooming</div>
<div style="position:absolute;top:426px;font-family:'Liberation Sans',sans-serif;font-size:6.6px;font-weight:normal;font-style:normal;line-height:10px;color:#1f2937;white-space:nowrap;left:487.30px;-webkit-text-stroke:0.1px #1f2937;">$15.99</div>
<div style="position:absolute;top:426px;font-family:'Liberation Sans',sans-serif;font-size:6.6px;font-weight:normal;font-style:normal;line-height:10px;color:#1f2937;white-space:nowrap;right:446.10px;text-align:right;-webkit-text-stroke:0.1px #1f2937;">2</div>
<div style="position:absolute;top:427px;font-family:'Liberation Sans',sans-serif;font-size:5.84px;font-weight:normal;font-style:normal;line-height:9px;color:#1f2937;white-space:nowrap;left:310.60px;width:600px;text-align:center;-webkit-text-stroke:0.05px #1f2937;">0.3 / 0.2 / 0.1</div>
<div style="position:absolute;top:426px;font-family:'Liberation Sans',sans-serif;font-size:6.71px;font-weight:normal;font-style:normal;line-height:10px;color:#1f2937;white-space:nowrap;right:303.80px;text-align:right;-webkit-text-stroke:0.1px #1f2937;">45.5</div>
<div style="position:absolute;top:426px;font-family:'Liberation Sans',sans-serif;font-size:7.0px;font-weight:bold;font-style:normal;line-height:10px;color:#1e40af;white-space:nowrap;left:434.60px;width:600px;text-align:center;">1</div>
<div style="position:absolute;top:426px;font-family:'Liberation Sans',sans-serif;font-size:5.3px;font-weight:normal;font-style:normal;line-height:8px;color:#991b1b;white-space:nowrap;left:481.05px;width:600px;text-align:center;-webkit-text-stroke:0.08px #991b1b;">Location Mismatch</div>
<div style="position:absolute;top:462px;font-family:'Liberation Sans',sans-serif;font-size:7.0px;font-weight:normal;font-style:normal;line-height:10px;color:#1f2937;white-space:nowrap;transform:scaleX(1.0092);transform-origin:left center;left:81.80px;-webkit-text-stroke:0.22px #1f2937;">Benny Bullys Liver Chops</div>
<div style="position:absolute;top:472px;font-family:'Liberation Sans',sans-serif;font-size:6.4px;font-weight:normal;font-style:normal;line-height:9px;color:#7b828c;white-space:nowrap;transform:scaleX(0.9300);transform-origin:left center;left:81.80px;-webkit-text-stroke:0.1px #7b828c;">500 G</div>
<div style="position:absolute;top:468px;font-family:'Liberation Mono',monospace;font-size:6.2px;font-weight:normal;font-style:normal;line-height:9px;color:#4b4f56;white-space:nowrap;transform:scaleX(0.8961);transform-origin:left center;left:256.20px;-webkit-text-stroke:0.1px #4b4f56;">628123291084</div>
<div style="position:absolute;top:467px;font-family:'Liberation Sans',sans-serif;font-size:7.05px;font-weight:normal;font-style:normal;line-height:10px;color:#1f2937;white-space:nowrap;left:326.20px;-webkit-text-stroke:0.1px #1f2937;">Dog Treats - Dehydrated</div>
<div style="position:absolute;top:467px;font-family:'Liberation Sans',sans-serif;font-size:6.6px;font-weight:normal;font-style:normal;line-height:10px;color:#1f2937;white-space:nowrap;left:487.30px;-webkit-text-stroke:0.1px #1f2937;">$50.99</div>
<div style="position:absolute;top:467px;font-family:'Liberation Sans',sans-serif;font-size:6.6px;font-weight:normal;font-style:normal;line-height:10px;color:#1f2937;white-space:nowrap;right:446.10px;text-align:right;-webkit-text-stroke:0.1px #1f2937;">5</div>
<div style="position:absolute;top:468px;font-family:'Liberation Sans',sans-serif;font-size:5.84px;font-weight:normal;font-style:normal;line-height:9px;color:#1f2937;white-space:nowrap;left:310.60px;width:600px;text-align:center;-webkit-text-stroke:0.05px #1f2937;">0.3 / 0.3 / 0.2</div>
<div style="position:absolute;top:467px;font-family:'Liberation Sans',sans-serif;font-size:6.71px;font-weight:normal;font-style:normal;line-height:10px;color:#1f2937;white-space:nowrap;right:303.80px;text-align:right;-webkit-text-stroke:0.1px #1f2937;">113.6</div>
<div style="position:absolute;top:467px;font-family:'Liberation Sans',sans-serif;font-size:7.0px;font-weight:bold;font-style:normal;line-height:10px;color:#1e40af;white-space:nowrap;left:434.60px;width:600px;text-align:center;">1</div>
<div style="position:absolute;top:467px;font-family:'Liberation Sans',sans-serif;font-size:5.3px;font-weight:normal;font-style:normal;line-height:8px;color:#991b1b;white-space:nowrap;left:481.05px;width:600px;text-align:center;-webkit-text-stroke:0.08px #991b1b;">Location Mismatch</div>
<div style="position:absolute;top:503px;font-family:'Liberation Sans',sans-serif;font-size:7.0px;font-weight:normal;font-style:normal;line-height:10px;color:#1f2937;white-space:nowrap;transform:scaleX(1.0092);transform-origin:left center;left:81.80px;-webkit-text-stroke:0.22px #1f2937;">Benny Bullys Liver Chops</div>
<div style="position:absolute;top:513px;font-family:'Liberation Sans',sans-serif;font-size:6.4px;font-weight:normal;font-style:normal;line-height:9px;color:#7b828c;white-space:nowrap;transform:scaleX(0.9300);transform-origin:left center;left:81.80px;-webkit-text-stroke:0.1px #7b828c;">80 g</div>
<div style="position:absolute;top:509px;font-family:'Liberation Mono',monospace;font-size:6.2px;font-weight:normal;font-style:normal;line-height:9px;color:#8a9099;white-space:nowrap;transform:scaleX(0.8961);transform-origin:left center;left:256.20px;-webkit-text-stroke:0.1px #8a9099;">628123291053</div>
<div style="position:absolute;top:508px;font-family:'Liberation Sans',sans-serif;font-size:7.05px;font-weight:normal;font-style:normal;line-height:10px;color:#1f2937;white-space:nowrap;left:326.20px;-webkit-text-stroke:0.1px #1f2937;">Dog Treats - Dehydrated</div>
<div style="position:absolute;top:508px;font-family:'Liberation Sans',sans-serif;font-size:6.6px;font-weight:normal;font-style:normal;line-height:10px;color:#1f2937;white-space:nowrap;left:487.30px;-webkit-text-stroke:0.1px #1f2937;">$12.99</div>
<div style="position:absolute;top:508px;font-family:'Liberation Sans',sans-serif;font-size:6.6px;font-weight:normal;font-style:normal;line-height:10px;color:#1f2937;white-space:nowrap;right:446.10px;text-align:right;-webkit-text-stroke:0.1px #1f2937;">10</div>
<div style="position:absolute;top:509px;font-family:'Liberation Sans',sans-serif;font-size:5.84px;font-weight:normal;font-style:normal;line-height:9px;color:#1f2937;white-space:nowrap;left:310.60px;width:600px;text-align:center;-webkit-text-stroke:0.05px #1f2937;">1.5 / 1.4 / 1.3</div>
<div style="position:absolute;top:508px;font-family:'Liberation Sans',sans-serif;font-size:6.71px;font-weight:normal;font-style:normal;line-height:10px;color:#1f2937;white-space:nowrap;right:303.80px;text-align:right;-webkit-text-stroke:0.1px #1f2937;">45.5</div>
<div style="position:absolute;top:508px;font-family:'Liberation Sans',sans-serif;font-size:7.0px;font-weight:bold;font-style:normal;line-height:10px;color:#1e40af;white-space:nowrap;left:434.60px;width:600px;text-align:center;">1</div>
<div style="position:absolute;top:508px;font-family:'Liberation Sans',sans-serif;font-size:5.3px;font-weight:normal;font-style:normal;line-height:8px;color:#991b1b;white-space:nowrap;left:481.05px;width:600px;text-align:center;-webkit-text-stroke:0.08px #991b1b;">Location Mismatch</div>
<div style="position:absolute;top:544px;font-family:'Liberation Sans',sans-serif;font-size:7.0px;font-weight:normal;font-style:normal;line-height:10px;color:#1f2937;white-space:nowrap;transform:scaleX(1.0092);transform-origin:left center;left:81.80px;-webkit-text-stroke:0.22px #1f2937;">Benny Bullys Liver Chops</div>
<div style="position:absolute;top:554px;font-family:'Liberation Sans',sans-serif;font-size:6.4px;font-weight:normal;font-style:normal;line-height:9px;color:#7b828c;white-space:nowrap;transform:scaleX(0.9300);transform-origin:left center;left:81.80px;-webkit-text-stroke:0.1px #7b828c;">200 g</div>
<div style="position:absolute;top:550px;font-family:'Liberation Mono',monospace;font-size:6.2px;font-weight:normal;font-style:normal;line-height:9px;color:#8a9099;white-space:nowrap;transform:scaleX(0.8961);transform-origin:left center;left:256.20px;-webkit-text-stroke:0.1px #8a9099;">628123291060</div>
<div style="position:absolute;top:549px;font-family:'Liberation Sans',sans-serif;font-size:7.05px;font-weight:normal;font-style:normal;line-height:10px;color:#1f2937;white-space:nowrap;left:326.20px;-webkit-text-stroke:0.1px #1f2937;">Dog Treats - Dehydrated</div>
<div style="position:absolute;top:549px;font-family:'Liberation Sans',sans-serif;font-size:6.6px;font-weight:normal;font-style:normal;line-height:10px;color:#1f2937;white-space:nowrap;left:487.30px;-webkit-text-stroke:0.1px #1f2937;">$24.99</div>
<div style="position:absolute;top:549px;font-family:'Liberation Sans',sans-serif;font-size:6.6px;font-weight:normal;font-style:normal;line-height:10px;color:#1f2937;white-space:nowrap;right:446.10px;text-align:right;-webkit-text-stroke:0.1px #1f2937;">3</div>
<div style="position:absolute;top:550px;font-family:'Liberation Sans',sans-serif;font-size:5.84px;font-weight:normal;font-style:normal;line-height:9px;color:#1f2937;white-space:nowrap;left:310.60px;width:600px;text-align:center;-webkit-text-stroke:0.05px #1f2937;">0.2 / 0.2 / 0.1</div>
<div style="position:absolute;top:549px;font-family:'Liberation Sans',sans-serif;font-size:6.71px;font-weight:normal;font-style:normal;line-height:10px;color:#1f2937;white-space:nowrap;right:303.80px;text-align:right;-webkit-text-stroke:0.1px #1f2937;">45.5</div>
<div style="position:absolute;top:549px;font-family:'Liberation Sans',sans-serif;font-size:7.0px;font-weight:bold;font-style:normal;line-height:10px;color:#1e40af;white-space:nowrap;left:434.60px;width:600px;text-align:center;">1</div>
<div style="position:absolute;top:549px;font-family:'Liberation Sans',sans-serif;font-size:5.3px;font-weight:normal;font-style:normal;line-height:8px;color:#991b1b;white-space:nowrap;left:481.05px;width:600px;text-align:center;-webkit-text-stroke:0.08px #991b1b;">Location Mismatch</div>
</body></html>
